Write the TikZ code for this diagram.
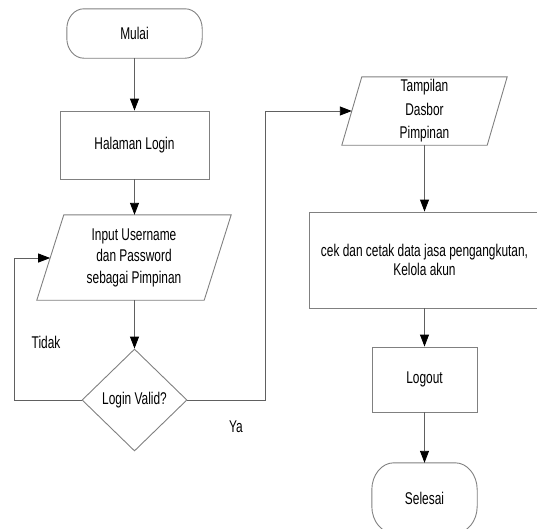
\documentclass[tikz,border=0pt]{standalone}
\usepackage{fontspec}
\setmainfont{Liberation Sans}[FakeStretch=0.7]
\usetikzlibrary{arrows.meta,shapes.geometric,calc}
\definecolor{boxgray}{RGB}{128,128,128}
\definecolor{linegray}{RGB}{96,96,96}

% outline of a terminator with elliptic corners: node, x radius, y radius
\newcommand\termoutline[3]{%
  \draw[outline]
    ($(#1.north west)+(#2,0)$) -- ($(#1.north east)+(-#2,0)$)
    arc[start angle=90,end angle=0,x radius=#2,y radius=#3]
    -- ($(#1.south east)+(0,#3)$)
    arc[start angle=0,end angle=-90,x radius=#2,y radius=#3]
    -- ($(#1.south west)+(#2,0)$)
    arc[start angle=-90,end angle=-180,x radius=#2,y radius=#3]
    -- ($(#1.north west)+(0,-#3)$)
    arc[start angle=180,end angle=90,x radius=#2,y radius=#3] -- cycle;}

% outline of a data (parallelogram) node: node, slant
\newcommand\dataoutline[2]{%
  \draw[outline]
    ($(#1.north west)+(#2,0)$) -- (#1.north east)
    -- ($(#1.south east)+(-#2,0)$) -- (#1.south west) -- cycle;}

\begin{document}
\begin{tikzpicture}[x=1pt,y=1pt,
  txt/.style={inner sep=0pt, align=center, font=\fontsize{17}{20}\selectfont},
  shapebox/.style={txt, draw=none, rectangle},
  procbox/.style={txt, draw=boxgray, line width=0.9pt, rectangle},
  decision/.style={txt, draw=boxgray, line width=0.9pt, diamond},
  outline/.style={draw=boxgray, line width=0.9pt},
  flow/.style={draw=linegray, line width=0.9pt,
    -{Triangle[length=12pt,width=9pt,color=black]}},
  lbl/.style={txt}]
\useasboundingbox (0,0) rectangle (537,-528);
\clip (0,0) rectangle (537,-528);

% left column
\node[shapebox, minimum width=135, minimum height=49] (mulai) at (134.5,-33.5) {Mulai};
\termoutline{mulai}{17}{20}
\node[procbox, minimum width=149, minimum height=68] (login) at (134.5,-145) {Halaman Login};
\node[shapebox, minimum width=194, minimum height=85,
      font=\fontsize{17}{21.5}\selectfont] (input) at (134,-257.5)
      {Input Username\\dan Password\\sebagai Pimpinan};
\dataoutline{input}{27}
\node[decision, minimum width=105, minimum height=102] (valid) at (134.5,-400) {Login Valid?};

% right column
\node[shapebox, minimum width=165, minimum height=68,
      font=\fontsize{17}{23.5}\selectfont] (tampil) at (424.5,-111)
      {Tampilan\\Dasbor\\Pimpinan};
\dataoutline{tampil}{20}
\node[procbox, minimum width=231, minimum height=96,
      font=\fontsize{17}{19.5}\selectfont] (cek) at (424.5,-260)
      {cek dan cetak data jasa pengangkutan,\\Kelola akun};
\node[procbox, minimum width=105, minimum height=65] (logout) at (424.5,-379.5) {Logout};
\node[shapebox, minimum width=105, minimum height=70] (selesai) at (424.5,-498) {Selesai};
\termoutline{selesai}{22}{27}

% branch labels
\node[lbl] (tidak) at (46,-342) {Tidak};
\node[lbl] (ya) at (236,-427) {Ya};

% entry points on the slanted sides and corners of the branch lines
\coordinate (inL) at ($($(input.north west)+(27,0)$)!0.506!(input.south west)$);
\coordinate (tampL) at ($($(tampil.north west)+(20,0)$)!0.5!(tampil.south west)$);
\coordinate (loopx) at (14,0);
\coordinate (yax) at (265,0);

% connectors
\draw[flow] (mulai.south) -- (mulai.south |- login.north);
\draw[flow] (login.south) -- (login.south |- input.north);
\draw[flow] (input.south -| valid.north) -- (valid.north);
\draw[flow] (valid.west) -| (loopx |- inL) -- (inL);
\draw[flow] (valid.east) -| (yax |- tampL) -- (tampL);
\draw[flow] (tampil.south) -- (tampil.south |- cek.north);
\draw[flow] (cek.south) -- (logout.north);
\draw[flow] (logout.south) -- (selesai.north);
\end{tikzpicture}
\end{document}
